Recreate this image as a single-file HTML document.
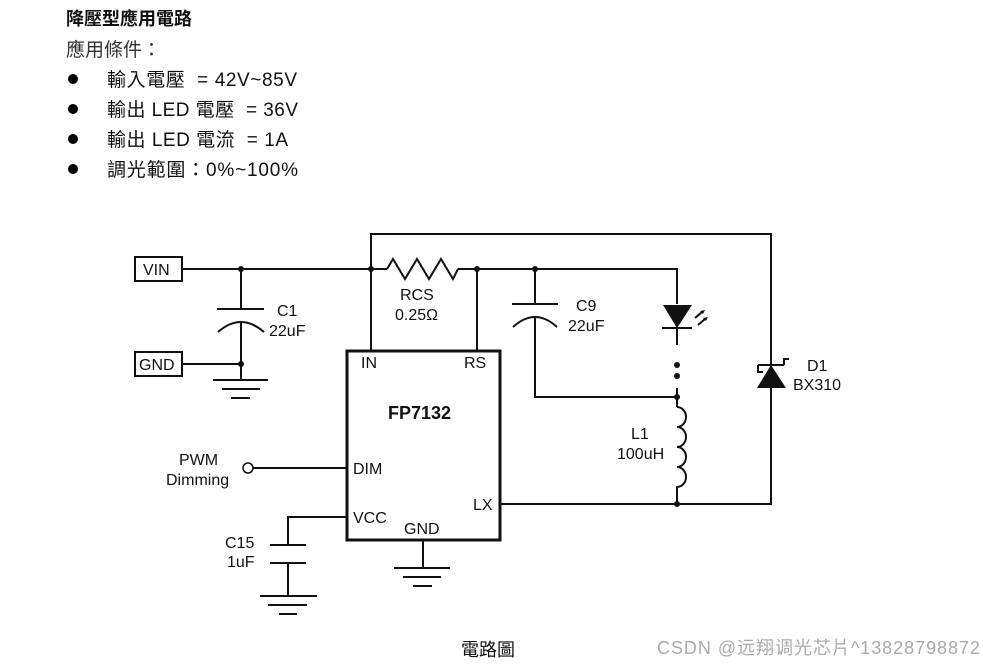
<!DOCTYPE html>
<html><head><meta charset="utf-8"><style>
body{margin:0;background:#fff;width:983px;height:665px;overflow:hidden}
svg{position:absolute;left:0;top:0}
text{font-family:"Liberation Sans","Noto Sans CJK TC",sans-serif;fill:#111;white-space:pre}
</style></head><body>
<svg width="983" height="665" viewBox="0 0 983 665">
<g font-size="19">
<text x="66" y="25" font-weight="bold" font-size="18">降壓型應用電路</text>
<text x="66" y="56" style="fill:#333">應用條件：</text>
<circle cx="73" cy="79" r="5" fill="#000"/><circle cx="73" cy="109" r="5" fill="#000"/><circle cx="73" cy="139" r="5" fill="#000"/><circle cx="73" cy="169" r="5" fill="#000"/>
<text x="107" y="86" textLength="190">輸入電壓  = 42V~85V</text>
<text x="107" y="116" textLength="191">輸出 LED 電壓  = 36V</text>
<text x="107" y="146" textLength="181">輸出 LED 電流  = 1A</text>
<text x="107" y="176" textLength="191">調光範圍：0%~100%</text>
</g>
<g stroke="#111" stroke-width="2" fill="none">
<rect x="135" y="257" width="47" height="24"/>
<rect x="135" y="352" width="47" height="24"/>
<path d="M182 269H387 M458 269H677V304 M371 269V234H771V504H500"/>
<path d="M387 269l6 -10 12 20 12 -20 12 20 12 -20 12 20 5 -10"/>
<path d="M371 269V351 M477 269V351"/>
<path d="M241 269V309 M217 309H264 M218 332Q241 312 264 332 M241 322V364 M182 364H241V380 M213 380H268 M222 389H260 M231 398H250"/>
<path d="M535 269V304 M512 304H558 M513 327Q535 307 557 327 M535 317V397H677"/>
<path d="M677 328V345 M662 328H692 M677 388V407"/>
<path d="M677 407a9 10 0 0 1 0 20a9 10 0 0 1 0 20a9 10 0 0 1 0 20a9 10 0 0 1 0 20V504"/>
<path d="M758 365H784 M758 365V372H763 M784 365V359H789"/>
<path d="M253 468H347"/>
<path d="M347 517H288V545 M270 545H306 M270 563H306 M288 563V596 M260 596H317 M268 605H307 M279 614H297"/>
<path d="M423 540V568 M394 568H450 M403 577H441 M413 586H432"/>
<path d="M695 318l7 -6 M698 325l7 -6"/>
</g>
<rect x="347" y="351" width="153" height="189" stroke="#111" stroke-width="3" fill="none"/>
<circle cx="248" cy="468" r="5" stroke="#111" stroke-width="1.5" fill="#fff"/>
<g fill="#111">
<polygon points="663,305 692,305 677,328"/>
<polygon points="757,388 786,388 771,365"/>
<path d="M705 310l-5 1 3 3z M708 317l-5 1 3 3z"/>
<circle cx="241" cy="269" r="3"/><circle cx="371" cy="269" r="3"/><circle cx="477" cy="269" r="3"/><circle cx="535" cy="269" r="3"/>
<circle cx="241" cy="364" r="3"/><circle cx="677" cy="397" r="3"/><circle cx="677" cy="504" r="3"/>
<circle cx="677" cy="365" r="3"/><circle cx="677" cy="376" r="3"/>
</g>
<g font-size="16">
<text x="143" y="275">VIN</text><text x="139" y="370">GND</text>
<text x="277" y="316">C1</text><text x="269" y="336">22uF</text>
<text x="400" y="300">RCS</text><text x="395" y="320">0.25Ω</text>
<text x="576" y="311">C9</text><text x="568" y="331">22uF</text>
<text x="807" y="371">D1</text><text x="793" y="390">BX310</text>
<text x="631" y="439">L1</text><text x="617" y="459">100uH</text>
<text x="361" y="368">IN</text><text x="464" y="368">RS</text>
<text x="388" y="419" font-weight="bold" font-size="18">FP7132</text>
<text x="353" y="474">DIM</text><text x="353" y="523">VCC</text>
<text x="404" y="534">GND</text><text x="473" y="510">LX</text>
<text x="179" y="465">PWM</text><text x="166" y="485">Dimming</text>
<text x="225" y="548">C15</text><text x="227" y="567">1uF</text>
<text x="461" y="656" font-size="18">電路圖</text>
<text x="657" y="654" font-size="18" textLength="323" style="fill:#aaa">CSDN @远翔调光芯片^13828798872</text>
</g>
</svg>
</body></html>
